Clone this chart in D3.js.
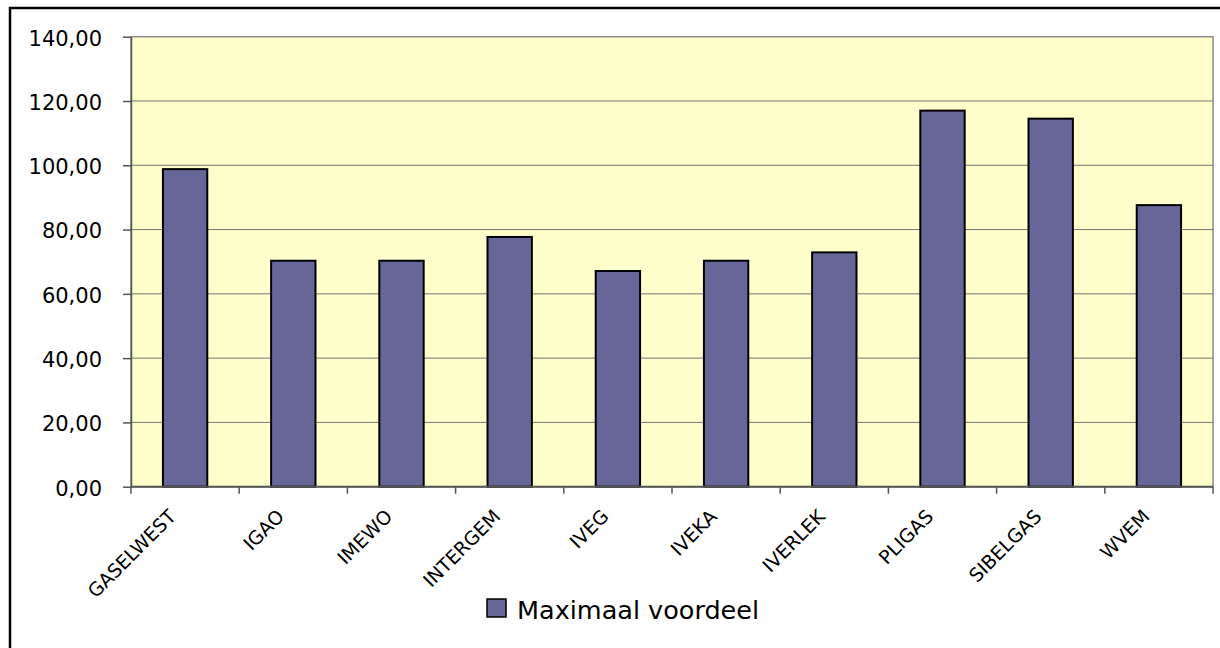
<!DOCTYPE html>
<html>
<head>
<meta charset="utf-8">
<script src="https://cdn.jsdelivr.net/npm/d3@7"></script>
<style>
  body { margin: 0; background: #fff; }
  svg { display: block; font-family: "DejaVu Sans", Verdana, sans-serif; }
</style>
</head>
<body>
<svg id="chart" width="1220" height="648"></svg>
<script>
// data
var categories = ["GASELWEST", "IGAO", "IMEWO", "INTERGEM", "IVEG", "IVEKA", "IVERLEK", "PLIGAS", "SIBELGAS", "WVEM"];
var values = [98.8, 70.3, 70.3, 77.7, 67.1, 70.3, 72.9, 117.0, 114.5, 87.6];
var yTicks = [0, 20, 40, 60, 80, 100, 120, 140];
var seriesName = "Maximaal voordeel";

var svg = d3.select("#chart"),
    plotLeft = 131, plotRight = 1213, plotTop = 36.7, plotBottom = 486.7;

var fmt = function(v) { return d3.format(".2f")(v).replace(".", ","); };

// outer chart frame (cropped at right/bottom like the original)
svg.append("rect")
    .attr("x", 10).attr("y", 8)
    .attr("width", 1230).attr("height", 660)
    .attr("fill", "#fff")
    .attr("stroke", "#000")
    .attr("stroke-width", 2.5);

var x = d3.scaleBand().domain(categories).range([plotLeft, plotRight]).padding(0);
var xBar = d3.scaleBand().domain(categories).range([plotLeft, plotRight])
    .paddingInner(0.59).paddingOuter(0.295);
var y = d3.scaleLinear().domain([0, 140]).range([plotBottom, plotTop]);

// plot area
svg.append("rect")
    .attr("x", plotLeft).attr("y", plotTop)
    .attr("width", plotRight - plotLeft).attr("height", plotBottom - plotTop)
    .attr("fill", "#ffffcc")
    .attr("stroke", "#8a8a8a")
    .attr("stroke-width", 1.5);

// gridlines
svg.append("g")
  .selectAll("line")
  .data(yTicks.filter(function(d) { return d > 0 && d < 140; }))
  .enter().append("line")
    .attr("x1", plotLeft).attr("x2", plotRight)
    .attr("y1", function(d) { return y(d); })
    .attr("y2", function(d) { return y(d); })
    .attr("stroke", "#777")
    .attr("stroke-width", 1);

// bars
svg.append("g")
  .selectAll("rect")
  .data(values)
  .enter().append("rect")
    .attr("x", function(d, i) { return xBar(categories[i]); })
    .attr("width", xBar.bandwidth())
    .attr("y", function(d) { return y(d); })
    .attr("height", function(d) { return y(0) - y(d); })
    .attr("fill", "#666699")
    .attr("stroke", "#000")
    .attr("stroke-width", 2);

// y axis
var yAxis = svg.append("g")
    .attr("transform", "translate(" + plotLeft + ",0)")
    .call(d3.axisLeft(y).tickValues(yTicks).tickFormat(fmt).tickSize(8).tickSizeOuter(0));
yAxis.select(".domain").attr("stroke", "#555").attr("stroke-width", 1.5);
yAxis.selectAll(".tick line").attr("stroke", "#555").attr("stroke-width", 1.5);
yAxis.selectAll(".tick text")
    .attr("x", -29)
    .attr("dy", "0.4em")
    .attr("fill", "#000")
    .style("font-size", "21px")
    .style("font-family", "DejaVu Sans, Verdana, sans-serif");

// x axis line and ticks at category boundaries
var bounds = categories.map(function(c) { return x(c); }).concat([plotRight]);
svg.append("line")
    .attr("x1", plotLeft).attr("x2", plotRight)
    .attr("y1", plotBottom).attr("y2", plotBottom)
    .attr("stroke", "#555").attr("stroke-width", 2);
svg.append("g")
  .selectAll("line")
  .data(bounds)
  .enter().append("line")
    .attr("x1", function(d) { return d; }).attr("x2", function(d) { return d; })
    .attr("y1", plotBottom).attr("y2", plotBottom + 7)
    .attr("stroke", "#555").attr("stroke-width", 1.5);

// category labels, rotated
svg.append("g")
  .selectAll("text")
  .data(categories)
  .enter().append("text")
    .attr("transform", function(d) {
      return "translate(" + (x(d) + x.bandwidth() / 2 - 8) + "," + (plotBottom + 31) + ") rotate(-45)";
    })
    .attr("text-anchor", "end")
    .style("font-size", "19px")
    .attr("fill", "#000")
    .text(function(d) { return d; });

// legend
var legend = svg.append("g");
legend.append("rect")
    .attr("x", 487).attr("y", 599)
    .attr("width", 19).attr("height", 18)
    .attr("fill", "#666699")
    .attr("stroke", "#000")
    .attr("stroke-width", 1.5);
legend.append("text")
    .attr("x", 517).attr("y", 619)
    .style("font-size", "25.5px")
    .attr("fill", "#000")
    .text(seriesName);
</script>
</body>
</html>
